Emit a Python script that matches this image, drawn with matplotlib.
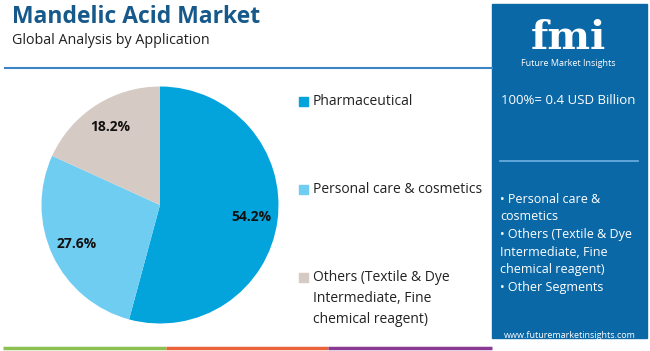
import matplotlib.pyplot as plt
from matplotlib.patches import Rectangle

# data
segments = ["Pharmaceutical", "Personal care & cosmetics",
            "Others (Textile & Dye\nIntermediate, Fine\nchemical reagent)"]
shares = [54.2, 27.6, 18.2]
colors = ["#03a3dc", "#6fcdf1", "#d6cac5"]
panel_items = ["\u2022 Personal care &\ncosmetics",
               "\u2022 Others (Textile & Dye\nIntermediate, Fine\nchemical reagent)",
               "\u2022 Other Segments"]
market_size = "100%= 0.4 USD Billion"

plt.rcParams["font.family"] = ["Open Sans", "DejaVu Sans"]

W, H = 650, 351
fig = plt.figure(figsize=(W / 100, H / 100), dpi=100)
bg = fig.add_axes([0, 0, 1, 1])
bg.set_xlim(0, W)
bg.set_ylim(H, 0)
bg.axis("off")

# header
bg.text(12, 17, "Mandelic Acid Market", fontsize=16.5, fontweight="bold",
        color="#17598b", va="center", ha="left")
bg.text(12, 40, "Global Analysis by Application", fontsize=10.3,
        color="#222222", va="center", ha="left")
bg.plot([5, 492], [68, 68], color="#3d84c4", lw=1.5)

# bottom stripe
for x0, x1, c in [(3, 166, "#8cc152"), (166, 328, "#e9643b"), (328, 492, "#8b3a93")]:
    bg.plot([x0, x1], [348, 348], color=c, lw=2.5, solid_capstyle="butt")

# right panel
bg.add_patch(Rectangle((492, 4), 155, 334, color="#0b68a7"))
bg.text(568, 49, "fmi", fontsize=29, fontweight="bold", family="DejaVu Serif",
        color="white", ha="center", va="baseline")
for yy in range(20, 50, 4):
    bg.plot([522, 614], [yy, yy], color="#0b68a7", lw=0.6)
bg.text(568, 63, "Future Market Insights", fontsize=6.5, color="white",
        ha="center", va="center")
bg.text(568, 100, market_size, fontsize=9.5, color="white",
        ha="center", va="center")
bg.plot([500, 638], [161, 161], color="#6db0e3", lw=1.2)
bg.text(500, 193, "\n".join(panel_items), fontsize=9, color="white",
        ha="left", va="top", linespacing=1.45)
bg.text(570, 335, "www.futuremarketinsights.com", fontsize=6.5,
        color="white", ha="center", va="center")

# legend
legend_y = [101, 189, 277]
for label, c, yy in zip(segments, colors, legend_y):
    bg.add_patch(Rectangle((299, yy - 4.5), 9, 9, color=c))
    bg.text(313, yy - 7, label, fontsize=10, color="#222222",
            ha="left", va="top", linespacing=1.55)

# pie
cx, cy, r = 160, 205, 118.5
ax = fig.add_axes([(cx - r) / W, (H - cy - r) / H, 2 * r / W, 2 * r / H])
wedges, texts, autotexts = ax.pie(
    shares, colors=colors, startangle=90, counterclock=False,
    autopct="%.1f%%", pctdistance=0.78,
    textprops=dict(fontsize=10, fontweight="bold", color="#111111"))
ax.set_xlim(-1, 1)
ax.set_ylim(-1, 1)
ax.set_aspect("equal")

fig.savefig("out.png", dpi=100)
